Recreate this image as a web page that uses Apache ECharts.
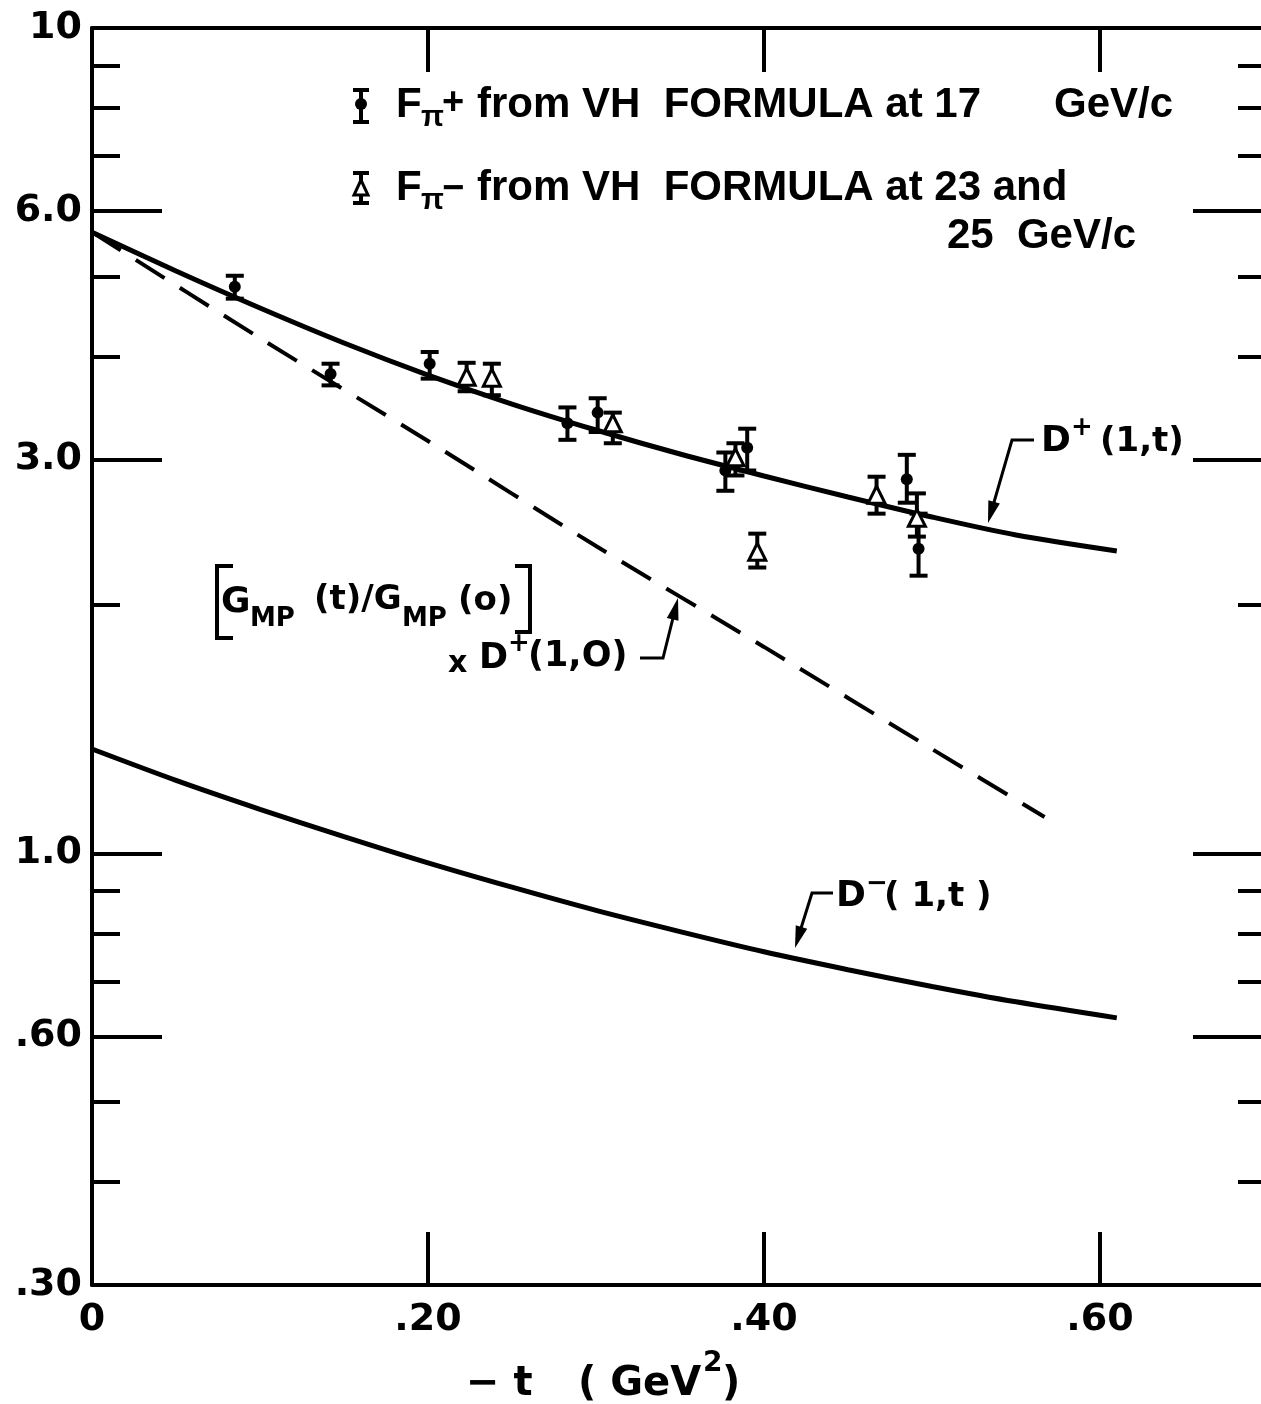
<!DOCTYPE html>
<html><head><meta charset="utf-8">
<script src="https://cdn.jsdelivr.net/npm/echarts@6/dist/echarts.min.js"></script>
<style>html,body{margin:0;padding:0;background:#fff}#c{width:1261px;height:1404px}</style>
</head><body><div id="c"></div><script>
// ---- data ----
const dPlusCurve = [[0,5.658],[0.05,5.077],[0.10,4.579],[0.15,4.153],[0.20,3.798],[0.25,3.503],[0.30,3.258],[0.35,3.047],[0.40,2.866],[0.45,2.703],[0.50,2.556],[0.55,2.431],[0.61,2.325]];
const gmpCurve = [[0,5.658],[0.10,4.21],[0.20,3.16],[0.30,2.357],[0.40,1.779],[0.50,1.338],[0.567,1.107]];
const dMinusCurve = [[0,1.338],[0.05,1.226],[0.10,1.131],[0.15,1.048],[0.20,0.974],[0.25,0.910],[0.30,0.853],[0.35,0.804],[0.40,0.760],[0.45,0.723],[0.50,0.690],[0.55,0.661],[0.61,0.632]];
// [ -t, value, low, high ]
const fPiPlus = [[0.085,4.86,4.70,5.01],[0.142,3.81,3.69,3.92],[0.201,3.92,3.76,4.05],[0.283,3.32,3.17,3.47],[0.301,3.42,3.24,3.56],[0.377,2.91,2.75,3.06],[0.390,3.10,2.91,3.27],[0.485,2.84,2.66,3.04],[0.492,2.34,2.17,2.58]];
const fPiMinus = [[0.223,3.78,3.63,3.93],[0.238,3.77,3.59,3.92],[0.310,3.32,3.14,3.42],[0.383,3.02,2.87,3.14],[0.396,2.32,2.22,2.44],[0.467,2.72,2.58,2.86],[0.491,2.55,2.42,2.73]];
const xTickValues = [0.2,0.4,0.6];
const xLabelValues = [0,0.2,0.4,0.6];
const xLabelTexts = ['0','.20','.40','.60'];
const yLabelValues = [0.3,0.6,1,3,6,10];
const yLabelTexts = ['.30','.60','1.0','3.0','6.0','10'];
const yMajorTicks = [0.6,1,3,6];
const yMinorTicks = [0.4,0.5,0.7,0.8,0.9,2,4,5,7,8,9];

const FONT = '"DejaVu Sans", sans-serif';
const LFONT = '"Liberation Sans", Arial, sans-serif';
function lookup(vals, texts, v){
  for (let i=0;i<vals.length;i++){ if (Math.abs(vals[i]-v) <= 1e-6*Math.max(1,Math.abs(v))) return texts[i]; }
  return '';
}
const chart = echarts.init(document.getElementById('c'), null, {renderer:'canvas'});

function yAx(pos, ticks, len, showLine, showLabel){
  return {
    type:'log', logBase:10, min:0.3, max:10, position:pos,
    axisLine:{show:showLine, lineStyle:{color:'#000', width:4}},
    splitLine:{show:false},
    axisTick:{show:true, inside:true, length:len, customValues:ticks, lineStyle:{color:'#000', width:4}},
    axisLabel:{show:showLabel, customValues:yLabelValues, margin:10, color:'#000', fontSize:38, fontWeight:'bold', fontFamily:FONT,
      formatter:v=>lookup(yLabelValues,yLabelTexts,v)}
  };
}

function errRender(params, api){
  const x = api.value(0), lo = api.value(2), hi = api.value(3);
  const pl = api.coord([x,lo]), ph = api.coord([x,hi]);
  const hw = 9, st = {stroke:'#000', lineWidth:4};
  return {type:'group', children:[
    {type:'line', shape:{x1:pl[0],y1:pl[1],x2:ph[0],y2:ph[1]}, style:st},
    {type:'line', shape:{x1:ph[0]-hw,y1:ph[1],x2:ph[0]+hw,y2:ph[1]}, style:st},
    {type:'line', shape:{x1:pl[0]-hw,y1:pl[1],x2:pl[0]+hw,y2:pl[1]}, style:st}
  ]};
}

function txt(text, x, y, size, extra){
  const e = extra || {};
  return {type:'text', z:100, style:{text:text, x:x, y:y, fill:'#000',
    font:(e.weight||'bold')+' '+size+'px '+(e.family||FONT),
    textAlign:e.align||'left', textVerticalAlign:'middle', verticalAlign:'middle'}};
}
function pline(points, w){
  return {type:'polyline', z:100, shape:{points:points}, style:{stroke:'#000', lineWidth:w||3, fill:null}};
}
function head(tip, from, len, hw){
  const dx = tip[0]-from[0], dy = tip[1]-from[1], L = Math.hypot(dx,dy);
  const ux = dx/L, uy = dy/L, bx = tip[0]-ux*len, by = tip[1]-uy*len;
  return {type:'polygon', z:100, shape:{points:[tip,[bx-uy*hw,by+ux*hw],[bx+uy*hw,by-ux*hw]]}, style:{fill:'#000'}};
}

const graphics = [
  // legend symbols
  pline([[361,90],[361,122]],4), pline([[353,90],[369,90]],4), pline([[353,122],[369,122]],4),
  {type:'circle', z:100, shape:{cx:361, cy:104, r:6}, style:{fill:'#000'}},
  pline([[361,173],[361,203]],4), pline([[353,173],[369,173]],4), pline([[353,203],[369,203]],4),
  {type:'polygon', z:101, shape:{points:[[361,180],[354,195],[368,195]]}, style:{fill:'#fff', stroke:'#000', lineWidth:3}},
  // legend texts
  txt('F',396,105,42,{family:LFONT}), txt('π',421,118,30,{family:LFONT}), txt('+',442,104,38,{family:LFONT}),
  txt('from VH  FORMULA at 17',477,105,42,{family:LFONT}), txt('GeV/c',1054,105,42,{family:LFONT}),
  txt('F',396,188,42,{family:LFONT}), txt('π',421,201,30,{family:LFONT}), txt('−',442,190,38,{family:LFONT}),
  txt('from VH  FORMULA at 23 and',477,188,42,{family:LFONT}), txt('25  GeV/c',1136,236,42,{family:LFONT, align:'right'}),
  // D+ annotation
  txt('D',1041,442,36), txt('+',1071,428,26), txt('(1,t)',1100,442,34),
  pline([[1034,440],[1012,440],[990,516]],3), head([988,523],[1012,440],22,6),
  // G_MP annotation
  pline([[233,566],[217,566],[217,638],[233,638]],4),
  pline([[515,566],[530,566],[530,632],[515,632]],4),
  txt('G',221,603,36), txt('MP',250,619,26), txt('(t)/G',314,600,34), txt('MP',402,619,26), txt('(o)',458,601,34),
  txt('x',448,664,30), txt('D',479,659,35), txt('+',508,644,26), txt('(1,O)',528,657,35),
  pline([[640,658],[663,658],[676,606]],3), head([678,598],[663,658],22,6),
  // D- annotation
  txt('D',836,897,36), txt('−',866,884,26), txt('( 1,t )',884,897,34),
  pline([[833,893],[812,893],[797,941]],3), head([795,948],[812,893],22,6),
  // x-axis title
  txt('− t',466,1385,40), txt('( GeV',578,1385,40), txt('2',703,1364,28), txt(')',722,1385,40)
];

const option = {
  backgroundColor:'#fff',
  animation:false,
  grid:{left:92, top:28, width:1176, height:1257, outerBoundsMode:'none', containLabel:false},
  xAxis:[
    {type:'value', min:0, max:0.7, position:'bottom', interval:0.2,
      axisLine:{show:true, lineStyle:{color:'#000', width:4}}, splitLine:{show:false},
      axisTick:{show:true, inside:true, length:53, customValues:xTickValues, lineStyle:{color:'#000', width:4}},
      axisLabel:{show:true, customValues:xLabelValues, margin:16, color:'#000', fontSize:38, fontWeight:'bold', fontFamily:FONT,
        formatter:v=>lookup(xLabelValues,xLabelTexts,v)}},
    {type:'value', min:0, max:0.7, position:'top', interval:0.2,
      axisLine:{show:true, lineStyle:{color:'#000', width:4}}, splitLine:{show:false},
      axisTick:{show:true, inside:true, length:44, customValues:xTickValues, lineStyle:{color:'#000', width:4}},
      axisLabel:{show:false}}
  ],
  yAxis:[
    yAx('left', yMajorTicks, 70, true, true),
    yAx('left', yMinorTicks, 28, false, false),
    yAx('right', yMajorTicks, 75, false, false),
    yAx('right', yMinorTicks, 30, false, false)
  ],
  series:[
    {type:'line', data:dPlusCurve, smooth:0.3, showSymbol:false, lineStyle:{color:'#000', width:5}, z:3},
    {type:'line', data:gmpCurve, smooth:0.3, showSymbol:false, lineStyle:{color:'#000', width:4, type:[34,18]}, z:3},
    {type:'line', data:dMinusCurve, smooth:0.3, showSymbol:false, lineStyle:{color:'#000', width:5}, z:3},
    {type:'custom', data:fPiPlus, renderItem:errRender, encode:{x:0,y:1}, z:5},
    {type:'custom', data:fPiMinus, renderItem:errRender, encode:{x:0,y:1}, z:5},
    {type:'scatter', data:fPiPlus.map(d=>[d[0],d[1]]), symbol:'circle', symbolSize:12, itemStyle:{color:'#000', opacity:1}, z:6},
    {type:'scatter', data:fPiMinus.map(d=>[d[0],d[1]]), symbol:'triangle', symbolSize:17, itemStyle:{color:'#fff', borderColor:'#000', borderWidth:3, opacity:1}, z:6}
  ],
  graphic:graphics
};
chart.setOption(option);
</script></body></html>
